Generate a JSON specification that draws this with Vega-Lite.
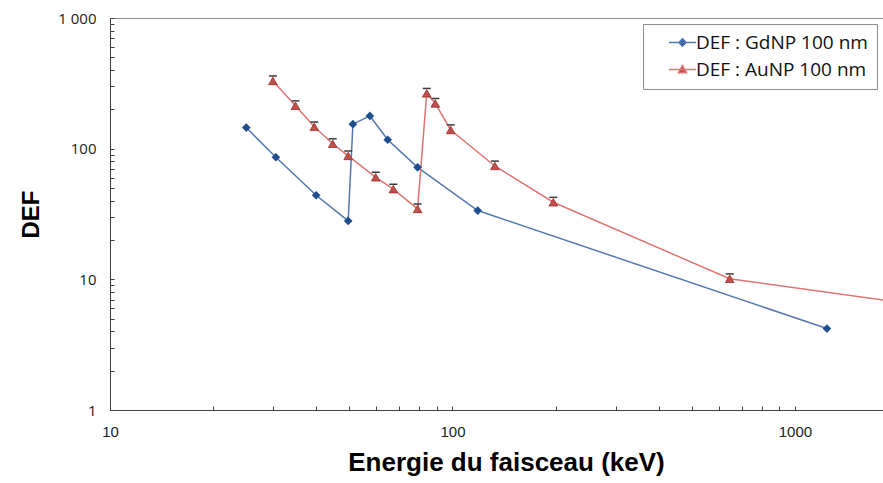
{
  "$schema": "https://vega.github.io/schema/vega-lite/v6.json",
  "width": 773,
  "height": 392,
  "autosize": {"type": "none"},
  "padding": {"left": 110, "top": 18, "right": 0, "bottom": 73},
  "background": "white",
  "config": {
    "view": {"stroke": "#8c8c8c", "strokeWidth": 1},
    "axis": {"domainColor": "#404040", "tickColor": "#404040", "grid": false, "labelColor": "#222", "titleColor": "#000"}
  },
  "data": {
    "values": [
      {"E": 25, "DEF": 145, "series": "DEF : GdNP 100 nm"},
      {"E": 30.5, "DEF": 86, "series": "DEF : GdNP 100 nm"},
      {"E": 40, "DEF": 44, "series": "DEF : GdNP 100 nm"},
      {"E": 49.6, "DEF": 28, "series": "DEF : GdNP 100 nm"},
      {"E": 51.2, "DEF": 154, "series": "DEF : GdNP 100 nm"},
      {"E": 57.4, "DEF": 178, "series": "DEF : GdNP 100 nm"},
      {"E": 64.7, "DEF": 117, "series": "DEF : GdNP 100 nm"},
      {"E": 79.1, "DEF": 72, "series": "DEF : GdNP 100 nm"},
      {"E": 118.5, "DEF": 33.6, "series": "DEF : GdNP 100 nm"},
      {"E": 1240, "DEF": 4.2, "series": "DEF : GdNP 100 nm"},
      {"E": 29.9, "DEF": 330, "hi": 360, "series": "DEF : AuNP 100 nm"},
      {"E": 34.8, "DEF": 213, "hi": 232, "series": "DEF : AuNP 100 nm"},
      {"E": 39.5, "DEF": 147, "hi": 160, "series": "DEF : AuNP 100 nm"},
      {"E": 44.7, "DEF": 109, "hi": 119, "series": "DEF : AuNP 100 nm"},
      {"E": 49.6, "DEF": 88, "hi": 96, "series": "DEF : AuNP 100 nm"},
      {"E": 59.7, "DEF": 60.4, "hi": 66, "series": "DEF : AuNP 100 nm"},
      {"E": 67.2, "DEF": 49, "hi": 53.4, "series": "DEF : AuNP 100 nm"},
      {"E": 79.1, "DEF": 34.6, "hi": 37.7, "series": "DEF : AuNP 100 nm"},
      {"E": 84.1, "DEF": 265, "hi": 289, "series": "DEF : AuNP 100 nm"},
      {"E": 89.1, "DEF": 222, "hi": 242, "series": "DEF : AuNP 100 nm"},
      {"E": 98.8, "DEF": 139, "hi": 152, "series": "DEF : AuNP 100 nm"},
      {"E": 133, "DEF": 73.7, "hi": 80.3, "series": "DEF : AuNP 100 nm"},
      {"E": 197, "DEF": 38.9, "hi": 42.4, "series": "DEF : AuNP 100 nm"},
      {"E": 645, "DEF": 10.1, "hi": 11, "series": "DEF : AuNP 100 nm"},
      {"E": 2000, "DEF": 6.7, "series": "DEF : AuNP 100 nm"}
    ]
  },
  "encoding": {
    "x": {
      "field": "E", "type": "quantitative",
      "scale": {"type": "log", "domain": [10, 1808], "nice": false},
      "axis": {
        "title": "Energie du faisceau (keV)",
        "values": [10, 20, 30, 40, 50, 60, 70, 80, 90, 100, 200, 300, 400, 500, 600, 700, 800, 900, 1000],
        "labelExpr": "(datum.value == 10 || datum.value == 100 || datum.value == 1000) ? datum.value + '' : ''",
        "tickSize": -4,
        "labelPadding": 18,
        "labelFont": "Liberation Sans Narrow, Liberation Sans",
        "labelFontSize": 15,
        "labelFlush": false,
        "labelOverlap": false,
        "titleFont": "Liberation Sans",
        "titleFontSize": 26,
        "titleFontWeight": "bold",
        "titlePadding": 10,
        "titleX": 396
      }
    },
    "y": {
      "field": "DEF", "type": "quantitative",
      "scale": {"type": "log", "domain": [1, 1000], "nice": false},
      "axis": {
        "title": "DEF",
        "values": [1, 2, 3, 4, 5, 6, 7, 8, 9, 10, 20, 30, 40, 50, 60, 70, 80, 90, 100, 200, 300, 400, 500, 600, 700, 800, 900, 1000],
        "labelExpr": "datum.value == 1000 ? '1 000' : ((datum.value == 1 || datum.value == 10 || datum.value == 100) ? datum.value + '' : '')",
        "tickSize": -4,
        "labelPadding": 18,
        "labelFont": "Open Sans",
        "labelFontSize": 15,
        "labelOverlap": false,
        "labelFlush": false,
        "titleFont": "Liberation Sans",
        "titleFontSize": 24,
        "titleFontWeight": "bold",
        "titlePadding": 14
      }
    }
  },
  "layer": [
    {
      "mark": {"type": "line", "strokeWidth": 1.5, "clip": true},
      "encoding": {
        "color": {
          "field": "series", "type": "nominal",
          "scale": {"domain": ["DEF : GdNP 100 nm", "DEF : AuNP 100 nm"], "range": ["#5577b0", "#e07474"]},
          "legend": {
            "title": null,
            "orient": "none",
            "legendX": 533,
            "legendY": 6,
            "padding": 9,
            "strokeColor": "#8c8c8c",
            "fillColor": "white",
            "labelFont": "Open Sans",
            "labelFontSize": 19,
            "labelLimit": 400,
            "labelColor": "#111",
            "symbolSize": 256,
            "symbolStrokeWidth": 1.5,
            "symbolOffset": 21,
            "rowPadding": 7,
            "labelOffset": 4,
            "encode": {
              "symbols": {
                "update": {
                  "shape": {"signal": "datum.value == 'DEF : GdNP 100 nm' ? 'M-1.7,0H1.7M0,-0.45L0.45,0L0,0.45L-0.45,0Z' : 'M-1.7,0H1.7M0,-0.5L0.5,0.4L-0.5,0.4Z'"},
                  "fill": {"signal": "datum.value == 'DEF : GdNP 100 nm' ? '#1f4e8c' : '#c0504d'"},
                  "stroke": {"signal": "datum.value == 'DEF : GdNP 100 nm' ? '#5577b0' : '#e07474'"},
                  "opacity": {"value": 1}
                }
              }
            }
          }
        }
      }
    },
    {
      "transform": [{"filter": "datum.series == 'DEF : GdNP 100 nm'"}],
      "mark": {"type": "point", "shape": "diamond", "filled": true, "size": 75, "opacity": 1, "color": "#1f4e8c", "clip": true}
    },
    {
      "transform": [{"filter": "datum.series == 'DEF : AuNP 100 nm'"}],
      "mark": {"type": "point", "shape": "triangle-up", "filled": true, "size": 75, "opacity": 1, "color": "#c0504d", "stroke": "#9b2d2a", "strokeWidth": 0.8, "clip": true}
    },
    {
      "transform": [{"filter": "isValid(datum.hi)"}],
      "mark": {"type": "tick", "orient": "horizontal", "size": 8, "thickness": 1.5, "color": "#3a3a3a", "opacity": 1, "clip": true},
      "encoding": {"y": {"field": "hi", "type": "quantitative"}}
    }
  ]
}
